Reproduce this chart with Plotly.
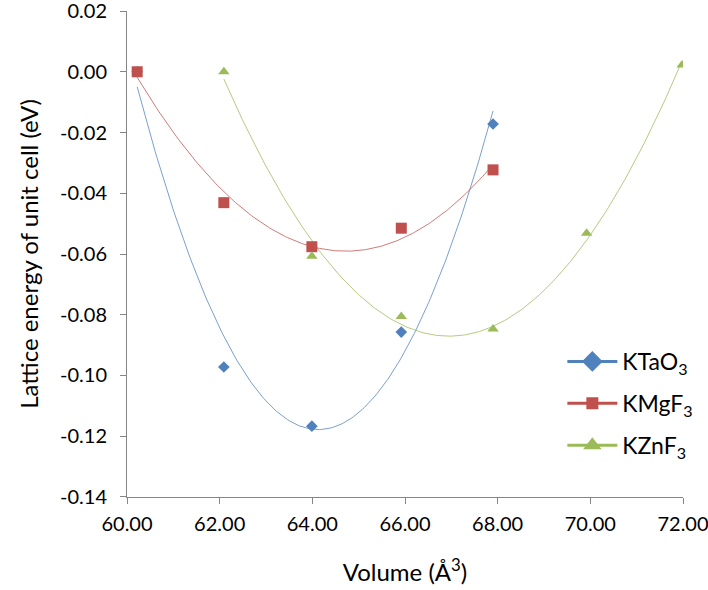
import numpy as np
import plotly.graph_objects as go

# ---- data ----
ktao3_x = [60.22, 62.09, 63.99, 65.92, 67.90]
ktao3_y = [0.0, -0.0972, -0.1167, -0.0857, -0.0172]

kmgf3_x = [60.22, 62.09, 63.99, 65.92, 67.90]
kmgf3_y = [0.0, -0.0431, -0.0576, -0.0515, -0.0323]

kznf3_x = [62.09, 63.99, 65.92, 67.90, 69.92, 71.98]
kznf3_y = [0.0, -0.0607, -0.0806, -0.0847, -0.0532, 0.0022]

series_names = ["KTaO<sub>3</sub>", "KMgF<sub>3</sub>", "KZnF<sub>3</sub>"]
colors = ["#4F81BD", "#C0504D", "#9BBB59"]
symbols = ["diamond", "square", "triangle-up"]

x_tickvals = [60, 62, 64, 66, 68, 70, 72]
x_ticktext = ["60.00", "62.00", "64.00", "66.00", "68.00", "70.00", "72.00"]
y_tickvals = [0.02, 0.0, -0.02, -0.04, -0.06, -0.08, -0.10, -0.12, -0.14]
y_ticktext = ["0.02", "0.00", "-0.02", "-0.04", "-0.06", "-0.08", "-0.10", "-0.12", "-0.14"]

FONT = "Lato"

fig = go.Figure()

datasets = [(ktao3_x, ktao3_y), (kmgf3_x, kmgf3_y), (kznf3_x, kznf3_y)]
msizes = [9, 11, 10]
legend_msizes = [16, 12, 17]

# polynomial (order 2) trendlines, like the spreadsheet's fit
for (xs, ys), c in zip(datasets, colors):
    coef = np.polyfit(xs, ys, 2)
    xf = np.linspace(min(xs), max(xs), 200)
    fig.add_trace(go.Scatter(x=xf, y=np.polyval(coef, xf), mode="lines",
                             line=dict(color=c, width=1), opacity=0.75,
                             showlegend=False, hoverinfo="skip"))

# markers
for (xs, ys), c, s, n, ms in zip(datasets, colors, symbols, series_names, msizes):
    fig.add_trace(go.Scatter(x=xs, y=ys, mode="markers", name=n,
                             marker=dict(color=c, symbol=s, size=ms,
                                         line=dict(width=0)),
                             showlegend=False))

# legend entries (larger symbols with line)
for i, (c, s, n, ms) in enumerate(zip(colors, symbols, series_names, legend_msizes)):
    fig.add_trace(go.Scatter(x=[None], y=[None], mode="lines+markers", name=n,
                             legendgroup=f"g{i}",
                             marker=dict(color=c, symbol=s, size=ms, line=dict(width=0)),
                             line=dict(color=c, width=3)))

axis_common = dict(
    showgrid=False, zeroline=False, showline=True, linecolor="#868686",
    linewidth=1, ticks="outside", ticklen=6, tickcolor="#868686",
    tickfont=dict(family=FONT, size=20, color="#000000"),
    automargin=False, ticklabeloverflow="allow",
)

fig.update_layout(
    template="none",
    width=708, height=590,
    margin=dict(l=127, r=25, t=11, b=93, autoexpand=False),
    paper_bgcolor="white", plot_bgcolor="white",
    font=dict(family=FONT, color="#000000"),
    xaxis=dict(range=[60, 72.0001], tickvals=x_tickvals, ticktext=x_ticktext,
               title=dict(text="Volume (Å<sup>3</sup>)",
                          font=dict(family=FONT, size=24), standoff=30),
               ticklabelstandoff=3,
               **axis_common),
    yaxis=dict(range=[-0.14001, 0.02001], tickvals=y_tickvals, ticktext=y_ticktext,
               title=dict(text="Lattice energy of unit cell (eV)",
                          font=dict(family=FONT, size=24), standoff=14),
               ticklabelstandoff=9,
               **axis_common),
    legend=dict(x=0.783, y=0.323, xanchor="left", yanchor="top",
                font=dict(family=FONT, size=23), itemwidth=50,
                tracegroupgap=9, bgcolor="rgba(0,0,0,0)"),
)

fig.write_html("out.html")
